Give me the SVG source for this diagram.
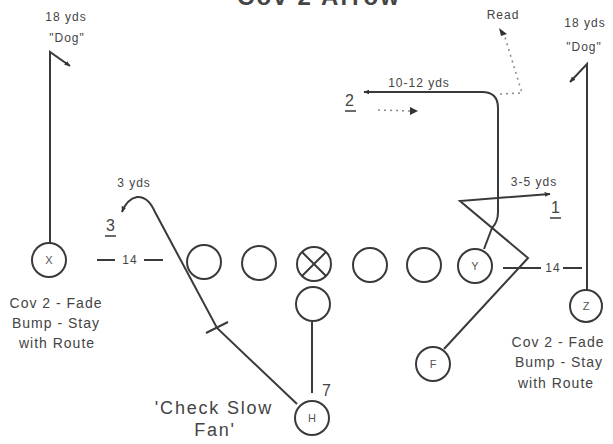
<svg xmlns="http://www.w3.org/2000/svg" width="613" height="444" viewBox="0 0 613 444">
<defs>
<marker id="ah" viewBox="0 0 10 10" refX="9" refY="5" markerWidth="6" markerHeight="6" orient="auto" markerUnits="userSpaceOnUse">
<path d="M0,1 L10,5 L0,9 Z" fill="#333"/>
</marker>
<style>
.ln{fill:none;stroke:#3a3a3a;stroke-width:2}
.dot{fill:none;stroke:#888;stroke-width:1.5;stroke-dasharray:2 4}
.pc{fill:#fff;stroke:#3a3a3a;stroke-width:2}
.t{font-family:"Liberation Sans",Arial,sans-serif;fill:#444;font-size:14px;letter-spacing:1px}
.tc{text-anchor:middle}
.lbl{font-family:"Liberation Sans",Arial,sans-serif;fill:#555;font-size:11px;text-anchor:middle}
</style>
</defs>
<rect width="613" height="444" fill="#fff"/>
<text x="237" y="5" class="t" style="font-size:24px;font-weight:bold" textLength="163">Cov 2 Arrow</text>

<g id="connectors">
<polyline class="ln" points="50,245 50,52 70,66" marker-end="url(#ah)"/>
<polyline class="ln" points="587,290 587,64 570,82" marker-end="url(#ah)"/>
<path class="ln" d="M484,249 L492,228 Q498,222 498,212 L498,108 Q498,92 482,92 L364,92" marker-end="url(#ah)"/>
<path class="dot" d="M378,110 L412,111"/>
<path d="M410,107 L418,111 L410,115 Z" fill="#333"/>
<path class="dot" d="M500,94 L522,93 L504,34"/>
<path d="M499,28 L507,34 L501,36 Z" fill="#333"/>
<polyline class="ln" points="444,349 528,258 460,201 550,194" marker-end="url(#ah)"/>
<path class="ln" d="M297,404 L217,328 L155,212 Q148,196 137,197 Q127,199 122,212" marker-end="url(#ah)"/>
<path class="ln" d="M206,333 L228,322"/>
<path class="ln" d="M312,322 L312,393"/>
<path class="ln" d="M97,260 L115,260 M144,260 L163,260"/>
<path class="ln" d="M503,268 L541,268 M563,268 L582,268"/>
</g>

<g id="X"><circle class="pc" cx="49" cy="260" r="17"/><text class="lbl" x="49" y="264">X</text></g>
<g id="lt"><circle class="pc" cx="204" cy="262" r="17"/></g>
<g id="lg"><circle class="pc" cx="259" cy="263" r="17"/></g>
<g id="c"><circle class="pc" cx="314" cy="264" r="17"/><path class="ln" d="M302,252 L326,276 M326,252 L302,276"/></g>
<g id="rg"><circle class="pc" cx="370" cy="265" r="17"/></g>
<g id="rt"><circle class="pc" cx="424" cy="265" r="17"/></g>
<g id="Y"><circle class="pc" cx="475" cy="266" r="17"/><text class="lbl" x="475" y="270">Y</text></g>
<g id="qb"><circle class="pc" cx="313" cy="304" r="17"/></g>
<g id="H"><circle class="pc" cx="312" cy="418" r="17"/><text class="lbl" x="312" y="422">H</text></g>
<g id="F"><circle class="pc" cx="433" cy="364" r="17"/><text class="lbl" x="433" y="368">F</text></g>
<g id="Z"><circle class="pc" cx="586" cy="306" r="16"/><text class="lbl" x="586" y="310">Z</text></g>

<g id="labels">
<text class="t tc" x="66" y="21" style="font-size:12px">18 yds</text>
<text class="t tc" x="67" y="42" style="font-size:12px">"Dog"</text>
<text class="t tc" x="585" y="27" style="font-size:12px">18 yds</text>
<text class="t tc" x="584" y="51" style="font-size:12px">"Dog"</text>
<text class="t tc" x="503" y="19" style="font-size:12px">Read</text>
<text class="t tc" x="419" y="87" style="font-size:12px">10-12 yds</text>
<text class="t tc" x="350" y="106" style="font-size:16px">2</text>
<path class="ln" d="M345,111 L356,111" style="stroke-width:1.5"/>
<text class="t tc" x="534" y="186" style="font-size:12px">3-5 yds</text>
<text class="t tc" x="556" y="213" style="font-size:16px">1</text>
<path class="ln" d="M550,218 L561,218" style="stroke-width:1.5"/>
<text class="t tc" x="134" y="187" style="font-size:12px">3 yds</text>
<text class="t tc" x="111" y="231" style="font-size:16px">3</text>
<path class="ln" d="M105,236 L116,236" style="stroke-width:1.5"/>
<text class="t tc" x="130" y="264" style="font-size:12px">14</text>
<text class="t tc" x="553" y="272" style="font-size:12px">14</text>
<text class="t tc" x="327" y="396" style="font-size:16px">7</text>
<text class="t tc" x="56" y="308">Cov 2 - Fade</text>
<text class="t tc" x="56" y="328">Bump - Stay</text>
<text class="t tc" x="57" y="348">with Route</text>
<text class="t tc" x="558" y="347">Cov 2 - Fade</text>
<text class="t tc" x="559" y="367">Bump - Stay</text>
<text class="t tc" x="556" y="388">with Route</text>
<text class="t tc" x="214" y="414" style="font-size:18px;letter-spacing:1.8px">'Check Slow</text>
<text class="t tc" x="215" y="436" style="font-size:18px;letter-spacing:1.8px">Fan'</text>
</g>
</svg>
